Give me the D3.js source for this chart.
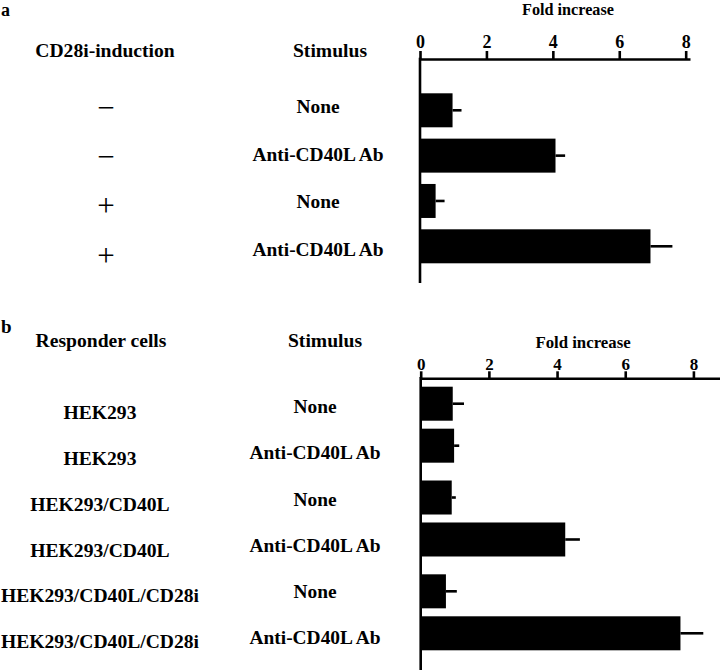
<!DOCTYPE html>
<html>
<head>
<meta charset="utf-8">
<script src="https://cdn.jsdelivr.net/npm/d3@7"></script>
<style>
  body { margin: 0; background: #fff; }
  svg { display: block; }
  text { font-family: "Liberation Serif", "Times New Roman", serif; font-weight: bold; fill: #000; }
</style>
</head>
<body>
<svg id="chart" width="720" height="670"></svg>
<script>
// panel a
var aInduction = ["\u2212", "\u2212", "+", "+"];
var aStimulus = ["None", "Anti-CD40L Ab", "None", "Anti-CD40L Ab"];
var aFold = [0.98, 4.08, 0.47, 6.94];
var aErr = [0.27, 0.29, 0.27, 0.66];

// panel b
var bCells = ["HEK293", "HEK293", "HEK293/CD40L", "HEK293/CD40L", "HEK293/CD40L/CD28i", "HEK293/CD40L/CD28i"];
var bStimulus = ["None", "Anti-CD40L Ab", "None", "Anti-CD40L Ab", "None", "Anti-CD40L Ab"];
var bFold = [0.94, 0.98, 0.91, 4.24, 0.74, 7.62];
var bErr = [0.33, 0.15, 0.12, 0.43, 0.32, 0.67];

var tickVals = [0, 2, 4, 6, 8];

var svg = d3.select("#chart");

function drawAxis(g, x, axisY, bottomY, tickSize, tickPad, fontSize) {
  var ax = g.append("g")
    .attr("transform", "translate(0," + axisY + ")")
    .call(d3.axisTop(x).tickValues(tickVals).tickSize(tickSize).tickPadding(tickPad).tickSizeOuter(0));
  ax.select(".domain").attr("stroke-width", 2.6);
  ax.selectAll(".tick line").attr("stroke-width", 2.6);
  ax.selectAll(".tick text")
    .style("font-family", "'Liberation Serif', 'Times New Roman', serif")
    .style("font-weight", "bold")
    .style("font-size", fontSize + "px");
  // vertical axis
  g.append("line")
    .attr("x1", x(0)).attr("x2", x(0))
    .attr("y1", axisY - 1.3).attr("y2", bottomY)
    .attr("stroke", "#000").attr("stroke-width", 2.6);
}

function drawBars(g, x, yTop, yBand, fold, err) {
  var idx = d3.range(fold.length);
  g.selectAll(null).data(idx).enter().append("rect")
    .attr("x", x(0))
    .attr("y", function(i) { return yTop(i); })
    .attr("width", function(i) { return x(fold[i]) - x(0); })
    .attr("height", yBand)
    .attr("fill", "#000");
  g.selectAll(null).data(idx).enter().append("line")
    .attr("x1", function(i) { return x(fold[i]); })
    .attr("x2", function(i) { return x(fold[i] + err[i]); })
    .attr("y1", function(i) { return yTop(i) + yBand / 2; })
    .attr("y2", function(i) { return yTop(i) + yBand / 2; })
    .attr("stroke", "#000").attr("stroke-width", 2.6);
}

// ---------- panel a ----------
var ga = svg.append("g");
var xa = d3.scaleLinear().domain([0, 8.13]).range([420, 690]);
var ya = d3.scaleBand().domain(d3.range(aFold.length)).range([93.3, 263.3]).paddingInner(0.25);

drawAxis(ga, xa, 59, 283, 8, 3, 18);
drawBars(ga, xa, ya, ya.bandwidth(), aFold, aErr);

ga.append("text").attr("x", 1).attr("y", 16).style("font-size", "18px").text("a");
ga.append("text").attr("x", 568).attr("y", 14.5).attr("text-anchor", "middle").style("font-size", "16.2px").text("Fold increase");
ga.append("text").attr("x", 105).attr("y", 56.5).attr("text-anchor", "middle").style("font-size", "19.6px").text("CD28i-induction");
ga.append("text").attr("x", 330).attr("y", 56.5).attr("text-anchor", "middle").style("font-size", "19.6px").text("Stimulus");

var aStimY = d3.scalePoint().domain(d3.range(aStimulus.length)).range([113.3, 256]);
ga.selectAll(null).data(aStimulus).enter().append("text")
  .attr("x", 318).attr("y", function(d, i) { return aStimY(i); })
  .attr("text-anchor", "middle").style("font-size", "19.4px")
  .text(function(d) { return d; });

var aSignY = d3.scalePoint().domain(d3.range(aInduction.length)).range([110, 258.3]);
ga.selectAll(null).data(aInduction).enter().append("text")
  .attr("x", 106).attr("y", function(d, i) { return aSignY(i) + 7.5; })
  .attr("text-anchor", "middle")
  .style("font-size", "31px").style("font-weight", "normal")
  .text(function(d) { return d; });

// ---------- panel b ----------
var gb = svg.append("g");
var xb = d3.scaleLinear().domain([0, 8.78]).range([420.7, 720]);
// rows come in pairs: group band, then row band inside group
var yGroup = d3.scaleBand().domain([0, 1, 2]).range([386.7, 650.3]).paddingInner(0.19);
var yRow = d3.scaleBand().domain([0, 1]).range([0, yGroup.bandwidth()]).paddingInner(0.19);
function ybTop(i) { return yGroup(Math.floor(i / 2)) + yRow(i % 2); }

drawAxis(gb, xb, 378.3, 670, 7, 1.5, 17);
drawBars(gb, xb, ybTop, yRow.bandwidth(), bFold, bErr);

gb.append("text").attr("x", 1).attr("y", 333).style("font-size", "19px").text("b");
gb.append("text").attr("x", 583).attr("y", 348).attr("text-anchor", "middle").style("font-size", "16.8px").text("Fold increase");
gb.append("text").attr("x", 101).attr("y", 346.7).attr("text-anchor", "middle").style("font-size", "19.6px").text("Responder cells");
gb.append("text").attr("x", 325).attr("y", 346.7).attr("text-anchor", "middle").style("font-size", "19.6px").text("Stimulus");

var bCellY = d3.scalePoint().domain(d3.range(bCells.length)).range([419, 648.3]);
gb.selectAll(null).data(bCells).enter().append("text")
  .attr("x", 100).attr("y", function(d, i) { return bCellY(i); })
  .attr("text-anchor", "middle").style("font-size", "19.6px")
  .text(function(d) { return d; });

var bStimY = d3.scalePoint().domain(d3.range(bStimulus.length)).range([413.3, 644]);
gb.selectAll(null).data(bStimulus).enter().append("text")
  .attr("x", 315).attr("y", function(d, i) { return bStimY(i); })
  .attr("text-anchor", "middle").style("font-size", "19.4px")
  .text(function(d) { return d; });
</script>
</body>
</html>
